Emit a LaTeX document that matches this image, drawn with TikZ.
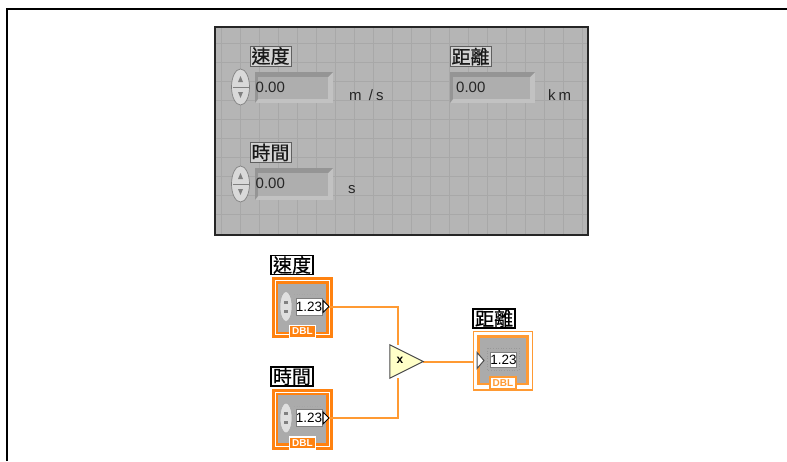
\documentclass[tikz,border=0pt]{standalone}
\usepackage{fontspec}
\setmainfont{Liberation Sans}
\newfontfamily\cjkf[FakeBold=0.5]{Noto Sans CJK TC}
\usetikzlibrary{arrows.meta}
\definecolor{panelgray}{HTML}{B5B5B5}
\definecolor{gridgray}{HTML}{A8A8A8}
\definecolor{recess}{HTML}{AEAEAE}
\definecolor{recessdark}{HTML}{959595}
\definecolor{recesslight}{HTML}{C2C2C2}
\definecolor{wireor}{HTML}{FF9A33}
\definecolor{termor}{HTML}{FF8210}
\definecolor{blockgray}{HTML}{ABABAB}
\definecolor{mulfill}{HTML}{FFFFC8}
\tikzset{
  x=1pt,y=-1pt,
  frameline/.style={draw=black,line width=2pt},
  paneltag/.style={draw=gray!75!black,fill=panelgray!60!white,line width=1pt,minimum width=41pt,minimum height=20pt,inner sep=0pt,font=\cjkf\fontsize{19}{19}\selectfont,text=black!90},
  blocktag/.style={draw=black,fill=white,line width=1.4pt,minimum width=42pt,minimum height=19pt,inner sep=0pt,font=\cjkf\fontsize{19}{19}\selectfont},
  valtext/.style={inner sep=0pt,font=\fontsize{15}{15}\selectfont,text=black!85,anchor=west},
  unittext/.style={inner sep=0pt,font=\addfontfeatures{LetterSpace=20}\fontsize{15}{15}\selectfont,text=black!85,anchor=west},
  wire/.style={draw=wireor,line width=2pt},
  valbox/.style={draw=gray,fill=white,line width=.5pt,minimum width=26pt,minimum height=17pt,inner sep=0pt,font=\fontsize{13.5}{13.5}\selectfont},
  dblctl/.style={draw=white,fill=termor,text=white,line width=1.4pt,minimum width=26pt,minimum height=12pt,inner sep=0pt,font=\bfseries\fontsize{10}{10}\selectfont},
  dblind/.style={draw=wireor,fill=white,text=wireor,line width=1.4pt,minimum width=26pt,minimum height=12pt,inner sep=0pt,font=\bfseries\fontsize{10}{10}\selectfont},
  spin/.style={draw=gray,fill=gray!30!white,line width=.7pt},
}
\newcommand{\recessbox}[4]{%
  \fill[recesslight] (#1,#2) rectangle (#3,#4);
  \fill[recessdark] (#1,#2) -- (#3,#2) -- ({#3-5},{#2+5}) -- ({#1+3},{#2+5}) -- ({#1+3},{#4-4}) -- (#1,#4) -- cycle;
  \fill[recess] ({#1+3},{#2+5}) rectangle ({#3-5},{#4-4});
}
\newcommand{\spinner}[2]{%
  \draw[spin] (#1,#2) ellipse [x radius=9pt,y radius=18pt];
  \fill[gray] ({#1-2.5},{#2-5}) -- ({#1+2.5},{#2-5}) -- (#1,{#2-11}) -- cycle;
  \fill[gray] ({#1-2.5},{#2+5}) -- ({#1+2.5},{#2+5}) -- (#1,{#2+11}) -- cycle;
  \draw[gray,line width=.6pt] ({#1-8},#2) -- ({#1+8},#2);
}
\newcommand{\ctlterm}[3]{% name, left x, top y
  \fill[termor] ({#2-.5},{#3-.5}) rectangle ({#2+60.5},{#3+60.5});
  \draw[white,line width=1pt] ({#2+3},{#3+3}) rectangle ({#2+57},{#3+57});
  \fill[blockgray] ({#2+6},{#3+6}) rectangle ({#2+54},{#3+54});
  \fill[gray!25!white,draw=gray!70!white,line width=.6pt] ({#2+14},{#3+29}) ellipse [x radius=6pt,y radius=15pt];
  \fill[gray] ({#2+12},{#3+23}) rectangle ({#2+16},{#3+26});
  \fill[gray] ({#2+12},{#3+32}) rectangle ({#2+16},{#3+35});
  \draw[gray!70!white,line width=.6pt,dotted] ({#2+22},{#3+17}) -- ({#2+50},{#3+17});
  \node[valbox] (#1val) at ({#2+37},{#3+29}) {1.23};
  \fill[white,draw=black,line width=1pt] ({#2+51},{#3+23}) -- ({#2+57},{#3+29}) -- ({#2+51},{#3+35}) -- cycle;
  \node[dblctl] (#1dbl) at ({#2+30.5},{#3+54}) {DBL};
  \coordinate (#1out) at ({#2+57},{#3+29});
}
\begin{document}
\begin{tikzpicture}
\useasboundingbox (0,0) rectangle (787,461);
\fill[white] (0,0) rectangle (787,461);
% page frame
\draw[frameline] (7,461) -- (7,9) -- (787,9);
% front panel
\fill[panelgray] (215,27) rectangle (588,235);
\foreach \gx in {221,240,...,582} \draw[gridgray,line width=1pt] (\gx,27) -- (\gx,235);
\foreach \gy in {43,62,...,232} \draw[gridgray,line width=1pt] (215,\gy) -- (588,\gy);
\draw[black!85,line width=1.6pt] (215,27) rectangle (588,235);
% speed control
\node[paneltag] (tagspeed) at (270.5,56) {速度};
\recessbox{255}{72}{333}{103}
\spinner{240.5}{87}
\node[valtext] (valspeed) at (255.5,87) {0.00};
\node[unittext] (unitspeed) at (349,95) {m /s};
% distance indicator
\node[paneltag] (tagdist) at (470.5,56.5) {距離};
\recessbox{450}{72}{535}{103}
\node[valtext] (valdist) at (456,87) {0.00};
\node[unittext] (unitdist) at (548,95) {km};
% time control
\node[paneltag] (tagtime) at (270.5,152.5) {時間};
\recessbox{255}{168}{333}{200}
\spinner{240.5}{184}
\node[valtext] (valtime) at (255.5,183) {0.00};
\node[unittext] (unittime) at (348,190) {s};
% block diagram
\node[blocktag] (blockspeed) at (292,265) {速度};
\node[blocktag] (blocktime) at (292,376.5) {時間};
\node[blocktag] (blockdist) at (494,318.5) {距離};
\ctlterm{speed}{272}{277.5}
\ctlterm{time}{272}{389}
% multiply node
\node[minimum width=33pt,minimum height=33pt,inner sep=0pt] (mul) at (406.5,361.5) {};
\draw[wire] (speedout) -| ([xshift=8pt]mul.north west);
\draw[wire] (timeout) -| ([xshift=8pt]mul.south west);
\draw[wire] (mul.east) -- (473,361.5) coordinate (indin);
\fill[mulfill,draw=black!70,line width=1pt] (mul.north west) -- (mul.east) -- (mul.south west) -- cycle;
\node[inner sep=0pt,font=\bfseries\fontsize{12}{12}\selectfont] (mulsign) at (400,360) {x};
% indicator
\draw[wireor,fill=white,line width=1.5pt] (473.5,331.5) rectangle (532.5,390);
\draw[wireor,fill=blockgray,line width=2.4pt] (478.5,336.5) rectangle (527.5,384);
\fill[white,draw=black!70,line width=1pt] (477,352.5) -- (484,360.5) -- (477,368.5) -- cycle;
\draw[gray!80!white,line width=.6pt,dotted] (487,348) rectangle (519,370);
\node[draw=gray,fill=white,line width=.5pt,minimum width=25pt,minimum height=15pt,inner sep=0pt,font=\fontsize{13.5}{13.5}\selectfont] (indval) at (503.5,360) {1.23};
\node[dblind] (inddbl) at (503,383) {DBL};
\end{tikzpicture}
\end{document}
